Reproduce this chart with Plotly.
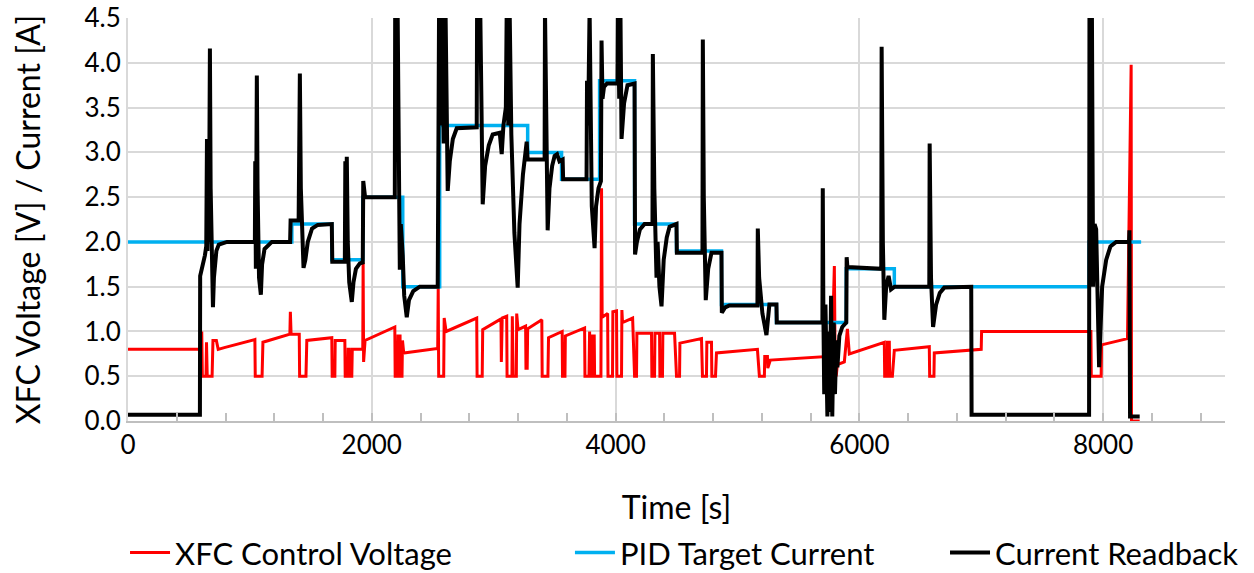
import plotly.graph_objects as go

# ---- data ----
pid_t = [0, 1344, 1344, 1672, 1672, 1926, 1926, 2254, 2254, 2557, 2557, 3279, 3279, 3557, 3557,
         3869, 3869, 4156, 4156, 4500, 4500, 4869, 4869, 5320, 5320, 5893, 5893, 6287, 6287,
         7885, 7885, 8312]
pid_v = [2.0, 2.0, 2.2, 2.2, 1.8, 1.8, 2.5, 2.5, 1.5, 1.5, 3.3, 3.3, 3.0, 3.0, 2.7,
         2.7, 3.8, 3.8, 2.2, 2.2, 1.9, 1.9, 1.3, 1.3, 1.1, 1.1, 1.7, 1.7, 1.5,
         1.5, 2.0, 2.0]

cur_t = [0, 590, 592, 610, 631, 642, 648, 652, 660, 664, 672, 678, 688, 697, 705, 713, 725, 745, 812,
         1041, 1044, 1049, 1057, 1063, 1075, 1090, 1100, 1120, 1180, 1330, 1334, 1400, 1404, 1410,
         1418, 1440, 1455, 1475, 1510, 1557, 1672, 1676, 1779, 1783, 1790, 1795, 1803, 1815, 1836,
         1850, 1870, 1902, 1926, 1930, 1945, 2189, 2192, 2202, 2212, 2220, 2230, 2238, 2254, 2266,
         2287, 2305, 2340, 2394, 2541, 2545, 2552, 2566, 2575, 2590, 2605, 2623, 2640, 2665, 2697,
         2861, 2864, 2890, 2910, 2930, 2960, 2992, 3050, 3066, 3080, 3100, 3107, 3120, 3131, 3145,
         3170, 3197, 3212, 3240, 3271, 3279, 3418, 3421, 3430, 3443, 3458, 3480, 3500, 3520, 3540,
         3566, 3570, 3762, 3766, 3775, 3787, 3795, 3805, 3828, 3840, 3860, 3880, 3885, 3893, 3905,
         3930, 4016, 4020, 4030, 4040, 4049, 4070, 4098, 4156, 4160, 4175, 4200, 4238, 4303, 4306,
         4318, 4336, 4345, 4360, 4377, 4395, 4420, 4443, 4500, 4503, 4713, 4716, 4724, 4740, 4760,
         4787, 4869, 4872, 4900, 4934, 5164, 5167, 5178, 5205, 5238, 5250, 5262, 5320, 5323, 5697,
         5700, 5705, 5712, 5722, 5738, 5748, 5758, 5768, 5778, 5790, 5800, 5812, 5820, 5836, 5860,
         5893, 5896, 5902, 6180, 6183, 6193, 6205, 6220, 6240, 6260, 6290, 6574, 6577, 6588, 6605,
         6630, 6660, 6697, 6918, 6921, 7885, 7888, 7898, 7908, 7918, 7930, 7943, 7967, 7975, 7992,
         8025, 8060, 8107, 8213, 8216, 8221, 8300]
cur_v = [0.07, 0.07, 1.62, 1.72, 1.85, 1.95, 3.15, 1.9, 3.1, 2.0, 4.16, 2.6, 1.6, 1.27, 1.6, 1.78, 1.9, 1.97, 2.0,
         2.0, 2.9, 1.7, 3.86, 2.6, 1.6, 1.41, 1.75, 1.92, 2.0, 2.0, 2.24, 2.24, 3.1, 3.88,
         2.6, 1.71, 1.8, 2.0, 2.15, 2.19, 2.2, 1.78, 1.78, 2.9, 2.0, 2.95, 2.0, 1.55, 1.33,
         1.55, 1.7, 1.76, 1.77, 2.68, 2.5, 2.5, 4.6, 3.0, 4.6, 2.6, 1.69, 2.2, 1.85, 1.4,
         1.16, 1.35, 1.45, 1.5, 1.5, 2.6, 4.6, 3.3, 4.6, 3.1, 4.6, 2.57, 2.9, 3.15, 3.27,
         3.28, 4.6, 4.6, 2.42, 2.85, 3.08, 3.2, 3.22, 2.98, 3.3, 3.5, 4.6, 3.3, 4.6, 3.2,
         2.1, 1.49, 2.2, 2.75, 3.12, 2.92, 2.92, 4.6, 3.2, 2.13, 2.6, 2.85, 2.96, 2.98, 2.9,
         2.92, 2.7, 2.7, 3.8, 3.3, 4.6, 3.1, 2.4, 1.93, 2.4, 2.6, 2.68, 4.25, 3.6, 3.73,
         3.77, 3.77, 4.6, 3.6, 4.6, 3.15, 3.55, 3.75, 3.77, 1.86, 2.0, 2.14, 2.2, 2.2, 4.1,
         2.6, 1.6, 2.0, 1.5, 1.28, 1.8, 2.05, 2.17, 2.2, 1.88, 1.88, 4.26, 2.5, 1.35, 1.7,
         1.88, 1.88, 1.21, 1.27, 1.29, 1.29, 2.15, 1.6, 1.2, 0.96, 1.2, 1.3, 1.3, 1.1, 1.1,
         2.6, 1.2, 0.3, 1.3, 0.05, 1.0, 0.1, 1.4, 0.05, 1.1, 0.3, 0.9, 0.6, 0.95, 1.05,
         1.1, 1.83, 1.72, 1.7, 4.18, 2.0, 1.13, 1.5, 1.62, 1.47, 1.5, 1.5, 3.1, 1.6, 1.05,
         1.3, 1.43, 1.49, 1.5, 0.07, 0.07, 4.6, 3.0, 4.6, 1.5, 2.2, 2.14, 0.6, 1.0, 1.5,
         1.8, 1.95, 2.0, 2.0, 2.13, 0.05, 0.05]

xfc_t = [0, 600, 605, 610, 640, 644, 650, 690, 697, 725, 740, 790, 1041, 1044, 1100, 1107, 1328, 1332,
         1338, 1405, 1408, 1460, 1467, 1672, 1675, 1697, 1700, 1779, 1782, 1803, 1806, 1815, 1818,
         1836, 1840, 1926, 1929, 1933, 1945, 2189, 2192, 2212, 2215, 2232, 2235, 2248, 2252, 2262,
         2541, 2545, 2549, 2590, 2594, 2610, 2861, 2864, 2906, 2910, 3060, 3063, 3070, 3107, 3110,
         3150, 3153, 3160, 3186, 3189, 3200, 3262, 3265, 3275, 3279, 3395, 3398, 3445, 3450, 3562,
         3565, 3585, 3588, 3746, 3749, 3782, 3787, 3795, 3808, 3812, 3825, 3828, 3880, 3885, 3890,
         3935, 3938, 3975, 3978, 4008, 4011, 4049, 4052, 4057, 4140, 4156, 4172, 4175, 4295, 4298,
         4320, 4323, 4361, 4364, 4385, 4388, 4484, 4500, 4525, 4528, 4705, 4713, 4746, 4749, 4787,
         4790, 4820, 4828, 5164, 5180, 5221, 5224, 5246, 5249, 5270, 5730, 5733, 5775, 5785, 5795,
         5800, 5810, 5820, 5877, 5902, 5918, 6205, 6208, 6228, 6231, 6246, 6249, 6271, 6287, 6574,
         6577, 6612, 6615, 7000, 7003, 7900, 7903, 7984, 7987, 8200, 8230, 8233, 8300]
xfc_v = [0.8, 0.8, 1.0, 0.5, 0.5, 0.88, 0.5, 0.5, 0.9, 0.9, 0.8, 0.82, 0.91, 0.5, 0.5, 0.88, 0.97, 1.22,
         0.97, 0.97, 0.5, 0.5, 0.9, 0.93, 0.5, 0.5, 0.9, 0.9, 0.5, 0.5, 0.8, 0.8, 0.5,
         0.5, 0.8, 0.8, 1.77, 0.66, 0.9, 1.05, 0.5, 0.5, 0.95, 0.95, 0.5, 0.5, 0.9, 0.76,
         0.81, 1.48, 0.5, 0.5, 1.15, 1.0, 1.15, 0.5, 0.5, 1.02, 1.14, 0.66, 1.15, 1.17, 0.5,
         0.5, 1.17, 0.5, 0.5, 1.2, 1.02, 1.06, 0.59, 0.59, 1.03, 1.13, 0.5, 0.5, 0.93, 1.0,
         0.5, 0.5, 0.95, 1.04, 0.5, 0.5, 1.0, 0.5, 0.5, 0.95, 0.95, 0.5, 0.5, 2.6, 1.16,
         1.2, 0.5, 0.5, 1.22, 1.23, 0.5, 0.5, 1.24, 1.1, 1.15, 0.5, 0.5, 0.98, 0.98, 0.5,
         0.5, 0.98, 0.98, 0.5, 0.5, 0.98, 0.98, 0.5, 0.5, 0.87, 0.92, 0.5, 0.5, 0.88, 0.88,
         0.5, 0.5, 0.76, 0.8, 0.5, 0.5, 0.72, 0.72, 0.59, 0.68, 0.72, 0.5, 0.5, 1.2, 1.73,
         0.9, 0.5, 0.63, 0.66, 1.03, 0.75, 0.88, 0.5, 0.5, 0.88, 0.88, 0.5, 0.5, 0.79, 0.83,
         0.5, 0.5, 0.76, 0.8, 1.0, 1.0, 0.5, 0.5, 0.85, 0.92, 3.98, 0.0, 0.0]

x_tick_vals = [0, 2000, 4000, 6000, 8000]
y_tick_vals = [0.0, 0.5, 1.0, 1.5, 2.0, 2.5, 3.0, 3.5, 4.0, 4.5]

FONT = "Lato"
TICK_SIZE = 26
TITLE_SIZE = 32
LEG_SIZE = 31

fig = go.Figure()
fig.add_trace(go.Scatter(x=xfc_t, y=xfc_v, mode="lines", name="XFC Control Voltage",
                         line=dict(color="#FF0000", width=3), legend="legend"))
fig.add_trace(go.Scatter(x=pid_t, y=pid_v, mode="lines", name="PID Target Current",
                         line=dict(color="#00B0F0", width=3.5), legend="legend2"))
fig.add_trace(go.Scatter(x=cur_t, y=cur_v, mode="lines", name="Current Readback",
                         line=dict(color="#000000", width=4), legend="legend3"))

leg_common = dict(orientation="h", xref="container", yref="container",
                  xanchor="left", yanchor="middle", y=0.035,
                  font=dict(size=LEG_SIZE, family=FONT), itemwidth=40,
                  bgcolor="rgba(0,0,0,0)")

fig.update_layout(
    width=1254, height=573,
    margin=dict(l=128, r=29, t=18, b=152, autoexpand=False),
    paper_bgcolor="white", plot_bgcolor="white",
    font=dict(family=FONT, size=TICK_SIZE, color="#000000"),
    showlegend=True,
    legend=dict(leg_common, x=0.0997),
    legend2=dict(leg_common, x=0.4545),
    legend3=dict(leg_common, x=0.7536),
)
fig.update_xaxes(range=[0, 9000], tickvals=x_tick_vals, ticktext=[str(v) for v in x_tick_vals],
                 automargin=False,
                 showgrid=True, gridcolor="#D9D9D9", gridwidth=2,
                 showline=True, linecolor="#BFBFBF", linewidth=2,
                 ticks="inside", ticklen=8, tickcolor="#BFBFBF", tickwidth=2,
                 minor=dict(dtick=400, tick0=0, ticks="inside", ticklen=8, tickcolor="#BFBFBF",
                            tickwidth=2, showgrid=False),
                 zeroline=False,
                 title=dict(text="Time [s]", font=dict(size=TITLE_SIZE), standoff=47),
                 tickfont=dict(size=TICK_SIZE))
fig.update_yaxes(range=[0, 4.501], tickvals=y_tick_vals, ticktext=[f"{v:.1f}" for v in y_tick_vals],
                 automargin=False,
                 showgrid=True, gridcolor="#D9D9D9", gridwidth=2,
                 showline=True, linecolor="#D9D9D9", linewidth=2,
                 zeroline=False, ticks="",
                 title=dict(text="XFC Voltage [V] / Current [A]", font=dict(size=TITLE_SIZE), standoff=34),
                 tickfont=dict(size=TICK_SIZE))

fig.write_html("out.html", config={"displayModeBar": False},
               post_script="document.body.style.margin='0';document.body.style.overflow='hidden';")
